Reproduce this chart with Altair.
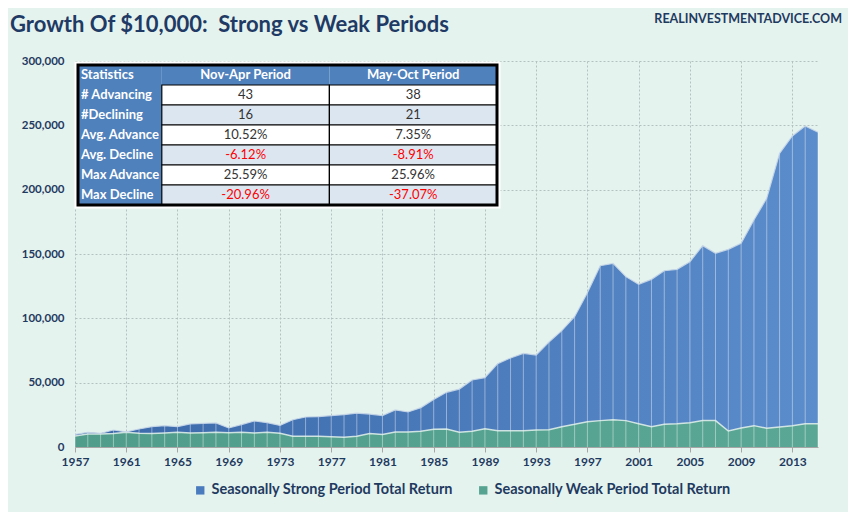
import altair as alt
import pandas as pd

# ---------------- data ----------------
years = list(range(1957, 2016))
strong = [9800, 11400, 10600, 13200, 11700, 14000, 15800, 16600, 15800, 17900,
          18400, 18700, 14800, 17400, 20200, 18900, 16800, 21200, 23300, 23600,
          24400, 25100, 26400, 25600, 24400, 28800, 27200, 30600, 37000, 42500,
          45000, 52100, 53900, 64800, 69200, 72800, 71500, 81600, 90400, 101300,
          119900, 140900, 142700, 132400, 126400, 130300, 137000, 138100, 144000, 156500,
          150500, 153600, 158300, 176400, 193300, 228200, 241700, 249500, 244600]
weak = [8500, 10100, 10100, 10400, 11400, 10600, 10400, 10900, 11400, 10900,
        11100, 11400, 11100, 11400, 10900, 11400, 10600, 8300, 8300, 8300,
        8000, 7500, 8300, 10400, 9800, 11700, 11700, 12200, 13700, 13900,
        11400, 12200, 14200, 12700, 12700, 12700, 13200, 13500, 15800, 17600,
        19700, 20500, 21200, 20500, 18100, 15800, 17600, 18100, 18900, 20500,
        20500, 12400, 14800, 16600, 14500, 15500, 16600, 18100, 18100]

S_NAME = "Seasonally Strong Period Total Return"
W_NAME = "Seasonally Weak Period Total Return"

x_ticks = list(range(1957, 2014, 4))
y_ticks = [0, 50000, 100000, 150000, 200000, 250000, 300000]

row_labels = ["Statistics", "# Advancing", "#Declining", "Avg. Advance",
              "Avg. Decline", "Max Advance", "Max Decline"]
nov_apr = ["Nov-Apr Period", "43", "16", "10.52%", "-6.12%", "25.59%", "-20.96%"]
may_oct = ["May-Oct Period", "38", "21", "7.35%", "-8.91%", "25.96%", "-37.07%"]

# ---------------- frames ----------------
wide = pd.DataFrame({"year": years, "strong": strong, "weak": weak})
long = pd.DataFrame({
    "year": years + years,
    "value": strong + weak,
    "series": [S_NAME] * len(years) + [W_NAME] * len(years),
})
cols = [row_labels, nov_apr, may_oct]
tbl = pd.DataFrame([
    {"row": r, "col": c, "label": cols[c][r]}
    for r in range(len(row_labels)) for c in range(3)
])

FONT = "Lato"
NAVY = "#1F3A5F"

xs = alt.Scale(domain=[1957, 2015], nice=False, zero=False)
ys = alt.Scale(domain=[0, 300000], nice=False)

x_axis = alt.Axis(values=x_ticks, format="d", title=None, labelFont=FONT,
                  labelFontSize=12, labelFontWeight="bold", labelColor=NAVY,
                  tickColor="#A6A6A6", tickSize=5, domainColor="#A6A6A6",
                  gridColor="#B3C2BE", gridDash=[2, 2], labelPadding=4,
                  labelFlush=False)
y_axis = alt.Axis(values=y_ticks, format=",.0f", title=None, labelFont=FONT,
                  labelFontSize=11.5, labelFontWeight="bold", labelColor=NAVY,
                  ticks=False, domain=False, gridColor="#B3C2BE",
                  gridDash=[2, 2], labelPadding=11)

X = alt.X("year:Q", scale=xs, axis=x_axis)

blue_grad = alt.Gradient(gradient="linear", x1=0, x2=1, y1=0, y2=0,
                         stops=[alt.GradientStop(color="#3A68A9", offset=0),
                                alt.GradientStop(color="#5B8CCB", offset=1)])
green_grad = alt.Gradient(gradient="linear", x1=0, x2=1, y1=0, y2=0,
                          stops=[alt.GradientStop(color="#4F9D8A", offset=0),
                                 alt.GradientStop(color="#5AA795", offset=1)])

# hidden layer that only carries the legend
legend_layer = alt.Chart(long).transform_calculate(
    half="datum.value / 2"
).transform_filter("datum.year > 1958 && datum.year < 2014").mark_square(size=1, opacity=1).encode(
    x=X,
    y=alt.Y("half:Q", scale=ys, axis=y_axis),
    color=alt.Color("series:N",
                    scale=alt.Scale(domain=[S_NAME, W_NAME],
                                    range=["#4A7BBE", "#55A390"]),
                    legend=alt.Legend(title=None, orient="none", legendX=118,
                                      legendY=422, direction="horizontal",
                                      symbolType="square", symbolSize=70,
                                      symbolStrokeWidth=0, symbolOpacity=1,
                                      labelFont=FONT, labelFontSize=14.5,
                                      labelFontWeight="bold", labelColor=NAVY,
                                      columnPadding=22, labelLimit=400)),
)

base = alt.Chart(wide)
blue_area = base.mark_area(fill=blue_grad).encode(
    x=X, y=alt.Y("strong:Q", scale=ys, axis=y_axis))
green_area = base.mark_area(fill=green_grad).encode(
    x=X, y=alt.Y("weak:Q", scale=ys, axis=y_axis))
drop_lines = base.mark_rule(color="white", opacity=0.42, strokeWidth=1).encode(
    x=X, y=alt.Y("strong:Q", scale=ys, axis=y_axis), y2=alt.datum(0))
blue_edge = base.mark_line(color="#C7D6E8", strokeWidth=1.2, opacity=0.9).encode(
    x=X, y=alt.Y("strong:Q", scale=ys, axis=y_axis))
green_edge = base.mark_line(color="#E4F2EC", strokeWidth=1.5, opacity=0.85).encode(
    x=X, y=alt.Y("weak:Q", scale=ys, axis=y_axis))

site = alt.Chart(pd.DataFrame({"t": ["REALINVESTMENTADVICE.COM"]})).mark_text(
    font=FONT, fontSize=12.5, fontWeight="bold", color=NAVY, align="right",
    baseline="middle").encode(text="t:N", x=alt.value(767), y=alt.value(-42))

main = alt.layer(legend_layer, blue_area, green_area, drop_lines,
                 green_edge, blue_edge, site)

# ---------------- statistics table ----------------
tx = alt.Scale(domain=[0, 5], range=[3, 422], nice=False, zero=False)
ty = alt.Scale(domain=[0, 7], range=[4, 144], nice=False, zero=False)

tbase = alt.Chart(tbl).transform_calculate(
    x0="datum.col == 0 ? 0 : (datum.col == 1 ? 1 : 3)",
    x1="datum.col == 0 ? 1 : (datum.col == 1 ? 3 : 5)",
).transform_calculate(
    xm="(datum.x0 + datum.x1) / 2",
    y0="datum.row",
    y1="datum.row + 1",
    ym="datum.row + 0.5",
    fillc="datum.row % 2 == 0 ? '#DCE6F1' : '#FFFFFF'",
    tcolor="indexof(datum.label, '-') == 0 ? '#FF0000' : '#333333'",
    bx0="0", bx1="5", by0="0", by1="7",
)

frame_white = tbase.transform_filter("datum.row == 0 && datum.col == 0").mark_rect(
    fill="white", stroke="white", strokeWidth=7).encode(
    x=alt.X("bx0:Q", scale=tx, axis=None), x2="bx1:Q",
    y=alt.Y("by0:Q", scale=ty, axis=None), y2="by1:Q")

blue_cells = tbase.transform_filter("datum.row == 0 || datum.col == 0").mark_rect(
    fill="#4F81BD").encode(
    x=alt.X("x0:Q", scale=tx, axis=None), x2="x1:Q",
    y=alt.Y("y0:Q", scale=ty, axis=None), y2="y1:Q")

row_text = tbase.transform_filter("datum.col == 0").mark_text(
    font=FONT, fontSize=13, fontWeight="bold", color="white", align="left",
    baseline="middle", dx=3).encode(
    x=alt.X("x0:Q", scale=tx, axis=None),
    y=alt.Y("ym:Q", scale=ty, axis=None), text="label:N")

head_text = tbase.transform_filter("datum.row == 0 && datum.col > 0").mark_text(
    font=FONT, fontSize=13, fontWeight="bold", color="white", align="center",
    baseline="middle").encode(
    x=alt.X("xm:Q", scale=tx, axis=None),
    y=alt.Y("ym:Q", scale=ty, axis=None), text="label:N")

data_cells = tbase.transform_filter("datum.row > 0 && datum.col > 0").mark_rect(
    stroke="black", strokeWidth=1.2).encode(
    x=alt.X("x0:Q", scale=tx, axis=None), x2="x1:Q",
    y=alt.Y("y0:Q", scale=ty, axis=None), y2="y1:Q",
    fill=alt.Fill("fillc:N", scale=None))

val_text = tbase.transform_filter("datum.row > 0 && datum.col > 0").mark_text(
    font=FONT, fontSize=13, align="center", baseline="middle").encode(
    x=alt.X("xm:Q", scale=tx, axis=None),
    y=alt.Y("ym:Q", scale=ty, axis=None), text="label:N",
    color=alt.Color("tcolor:N", scale=None))

frame_black = tbase.transform_filter("datum.row == 0 && datum.col == 0").mark_rect(
    fillOpacity=0, stroke="black", strokeWidth=3).encode(
    x=alt.X("bx0:Q", scale=tx, axis=None), x2="bx1:Q",
    y=alt.Y("by0:Q", scale=ty, axis=None), y2="by1:Q")

table = alt.layer(frame_white, blue_cells, row_text, head_text, data_cells,
                  val_text, frame_black)

chart = alt.layer(main, table).resolve_scale(
    x="independent", y="independent"
).properties(
    width=743, height=386,
    autosize=alt.AutoSizeParams(type="none"),
    padding={"left": 67, "top": 53, "right": 30, "bottom": 65},
    background="#E5F3EF",
    title=alt.TitleParams(
        text="Growth Of $10,000:\u00a0 Strong vs Weak Periods",
        anchor="start", frame="group", dx=-65, dy=41, baseline="alphabetic",
        offset=0, font=FONT, fontSize=22, fontWeight="bold", color="#1F3A64"),
).configure_view(stroke="transparent")

chart.save("out.html", embed_options={"renderer": "svg", "actions": False})
